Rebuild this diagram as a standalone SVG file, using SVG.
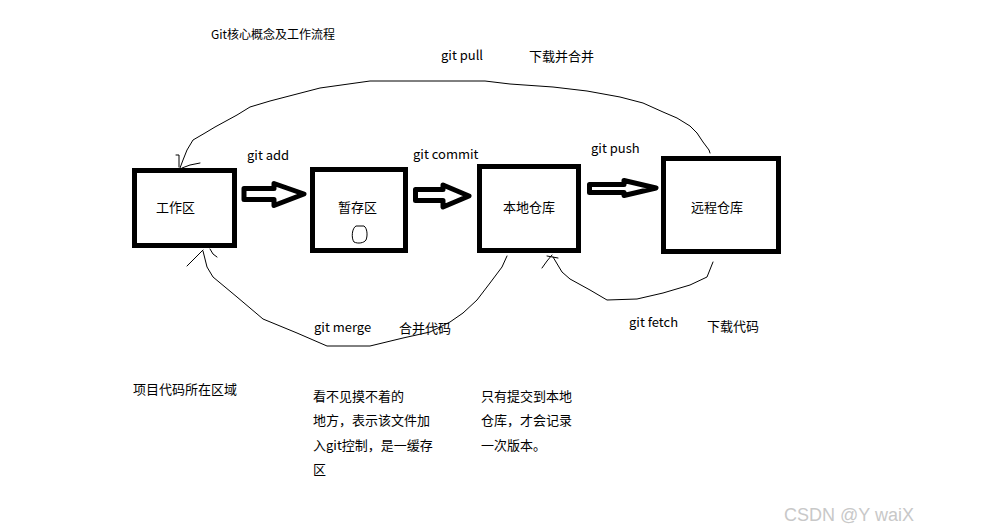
<svg xmlns="http://www.w3.org/2000/svg" width="1007" height="532" viewBox="0 0 1007 532">
<style>
text{font-family:"Noto Sans CJK SC","Noto Sans",sans-serif;font-size:13px;fill:#000}
.title{font-size:12px}
.box{fill:#fff;stroke:#000;stroke-width:5}
.arrow{fill:#fff;stroke:#000;stroke-width:5;stroke-linejoin:round}
.line{fill:none;stroke:#000;stroke-width:1;stroke-linejoin:round;stroke-linecap:round}
.wm{font-family:"Liberation Sans",Arial,sans-serif;font-size:18px;fill:#c8c8c8}
</style>
<rect width="1007" height="532" fill="#fff"/>
<text class="title" x="211" y="38.5">Git核心概念及工作流程</text>

<g id="connectors">
  <polygon class="arrow" points="244,188.5 274,188.5 274,183.5 304,194 274,205.5 274,199.5 244,199.5"/>
  <polygon class="arrow" points="415.5,189.5 443,189.5 443,185 469,196 443,207 443,200.5 415.5,200.5"/>
  <polygon class="arrow" points="589.5,184.5 624,184.5 624,180.5 656,188 624,195.5 624,192.5 589.5,192.5"/>
  <polyline class="line" points="180,168 183,160 187,150 193,140 205,133 215,127 237,115 250,107 270,101 320,88 370,81 485,81 510,84 553,87 587,91 620,97 643,103 663,112 677,118 690,126 697,133 703,142 709,150 710,153"/>
  <polyline class="line" points="176,155 179,155 179,167"/>
  <polyline class="line" points="182,168 190,165 200,163"/>
  <polyline class="line" points="507,256 502,267 490,283 477,300 463,313 450,322 430,332 403,338 370,346 327,346 297,333 263,319 237,297 213,277 207,267 203,251"/>
  <polyline class="line" points="187,266 195,258 203,250"/>
  <polyline class="line" points="210,249 213,254 217,257"/>
  <polyline class="line" points="713,262 707,277 690,285 663,293 637,299 607,300 590,290 570,279 562,272 553,257"/>
  <polyline class="line" points="542,268 547,261 552,255"/>
  <polyline class="line" points="547,256 558,258"/>
  <text x="247" y="160">git add</text>
  <text x="413" y="159">git commit</text>
  <text x="591" y="153">git push</text>
  <text x="441" y="60">git pull</text>
  <text x="529" y="60.5">下载并合并</text>
  <text x="314" y="332">git merge</text>
  <text x="399" y="332.5">合并代码</text>
  <text x="629" y="327">git fetch</text>
  <text x="707" y="330.5">下载代码</text>
</g>

<g id="workspace">
  <rect class="box" x="134.5" y="170.5" width="100" height="75"/>
  <text x="156" y="212">工作区</text>
</g>
<g id="staging">
  <rect class="box" x="312.5" y="169.5" width="93" height="81"/>
  <text x="338" y="212">暂存区</text>
  <path d="M356,226 C352,228 351,238 354,242 C358,244 364,243 366,240 C368,235 367,228 364,226 Z" fill="none" stroke="#000" stroke-width="1"/>
</g>
<g id="local-repo">
  <rect class="box" x="479.5" y="166.5" width="99" height="84"/>
  <text x="503" y="212">本地仓库</text>
</g>
<g id="remote-repo">
  <rect class="box" x="663.5" y="158.5" width="115" height="93"/>
  <text x="691" y="212">远程仓库</text>
</g>

<g id="notes">
  <text x="133" y="393.5">项目代码所在区域</text>
  <text x="313" y="400.5">看不见摸不着的</text>
  <text x="313" y="425">地方，表示该文件加</text>
  <text x="313" y="449.5">入git控制，是一缓存</text>
  <text x="313" y="474">区</text>
  <text x="481" y="400.5">只有提交到本地</text>
  <text x="481" y="425">仓库，才会记录</text>
  <text x="481" y="449.5">一次版本。</text>
</g>
<text class="wm" x="784" y="520.5">CSDN @Y waiX</text>
</svg>
